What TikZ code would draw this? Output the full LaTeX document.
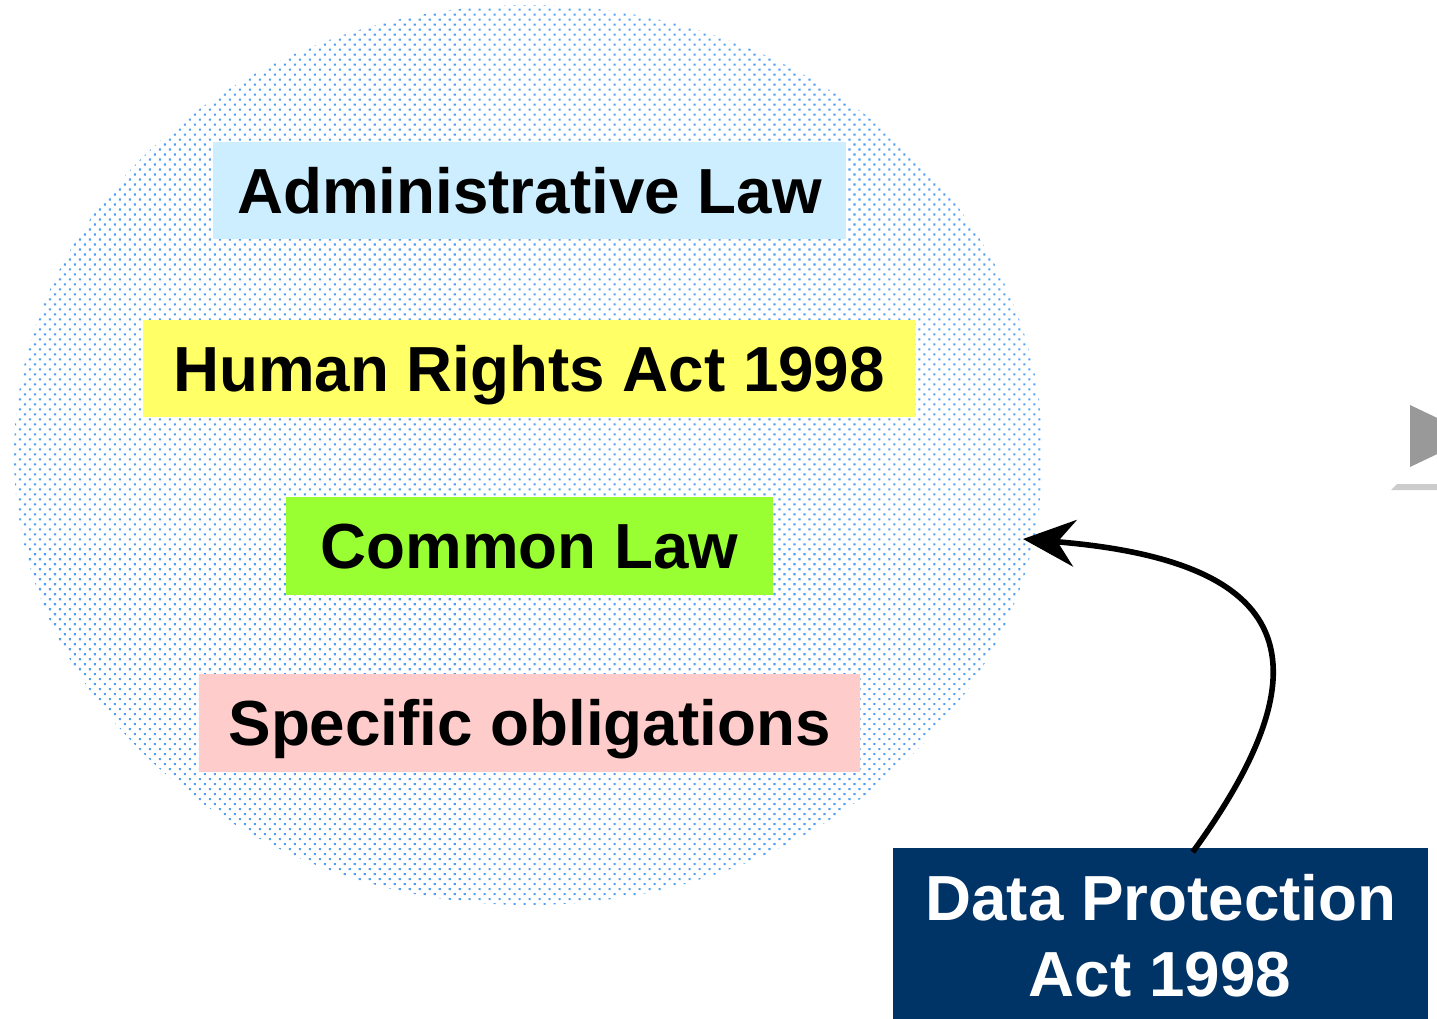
\documentclass[tikz,border=0pt]{standalone}
\usepackage{fontspec}
\setmainfont{Liberation Sans}
\usetikzlibrary{arrows.meta,patterns.meta,calc}
\definecolor{dotblue}{HTML}{4F9EF5}
\definecolor{adminblue}{HTML}{CCEEFF}
\definecolor{rightsyellow}{HTML}{FFFF66}
\definecolor{commongreen}{HTML}{99FF33}
\definecolor{specificpink}{HTML}{FFCCCC}
\definecolor{dpanavy}{HTML}{003366}
\begin{document}
\begin{tikzpicture}[x=0.75pt,y=-0.75pt,
  bigfont/.style={font=\fontsize{47.8}{57}\selectfont\bfseries},
  lawbox/.style={rectangle, draw=none, inner sep=0pt, bigfont,
    text height=34.2pt, text depth=0pt, minimum height=73pt},
  dpabox/.style={rectangle, draw=none, fill=dpanavy, inner sep=0pt},
  dpatext/.style={bigfont, text=white, inner sep=0pt, anchor=base},
  linkarrow/.style={line width=4.2pt, -{Stealth[length=39pt,width=35pt,inset=13pt]}}
]
\clip (0,0) rectangle (1437,1019);

% dotted area holding the legal framework
\fill[pattern={Dots[distance=5.3pt,angle=45,radius=1.1pt]}, pattern color=dotblue]
  (528.5,455) ellipse [x radius=514.5, y radius=450];

% sources of obligations
\node[lawbox, fill=adminblue, minimum width=474.75pt] (admin) at (529.5,190.5) {Administrative Law};
\node[lawbox, fill=rightsyellow, minimum width=579pt] (rights) at (529,368.5) {Human Rights Act 1998};
\node[lawbox, fill=commongreen, minimum width=365.25pt, minimum height=73.5pt] (common) at (529.5,546) {Common Law};
\node[lawbox, fill=specificpink, minimum width=495.75pt, minimum height=73.5pt] (specific) at (529.5,723) {Specific obligations};

% the act feeding into the framework
\node[dpabox, anchor=north, minimum width=401.25pt, minimum height=136.5pt] (dpa) at (1160.5,848) {};
\node[dpatext] (dpaline1) at (1161,920) {Data Protection};
\node[dpatext] (dpaline2) at (1160,996.5) {Act 1998};

\coordinate (dpaout) at ($(dpa.north west)+(300,4)$);
\coordinate (areain) at (1023,539);
\draw[linkarrow] (dpaout) .. controls (1340,650) and (1280,560) .. (areain);

% partial navigation control at the right edge
\fill[gray!80] (1410,405) -- (1475,436) -- (1410,467) -- cycle;
\fill[gray!40] (1397,484) -- (1450,484) -- (1450,490) -- (1391,490) -- cycle;
\end{tikzpicture}
\end{document}
